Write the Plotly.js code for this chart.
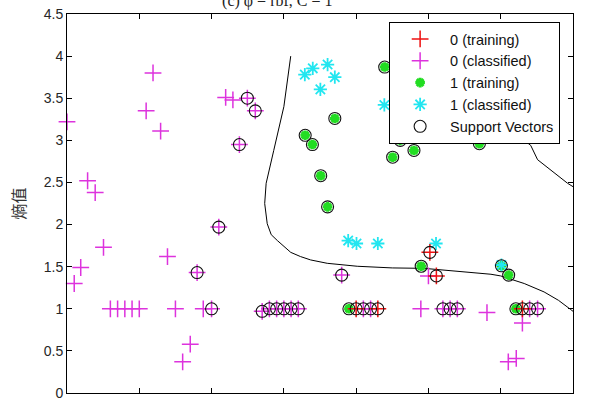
<!DOCTYPE html>
<html><head><meta charset="utf-8">
<script src="https://cdn.plot.ly/plotly-3.0.1.min.js"></script>
<style>html,body{margin:0;padding:0;background:#fff}</style>
</head><body>
<div id="chart" style="width:590px;height:401px"></div>
<script>
// ---- data ----
const train0X = [80, 86, 100.4, 102.2, 126];
const train0Y = [1, 1, 1.67, 1.39, 1];

const class0X = [0, 21.9, 23.8, 25.9, 43.9, 45.9, 49.9, 52.1, 47.7, 5.7, 7.8, 10.1, 27.8, 42.0, 36.0, 3.8, 2.0,
  12, 14, 16, 18, 20, 30, 37.7, 40, 34.1, 32, 54, 56, 58, 60, 62, 64, 82, 84, 76, 97.9, 100, 104, 106, 108,
  116.2, 126, 122.1, 124.3, 128, 130.2];
const class0Y = [3.22, 3.35, 3.80, 3.11, 3.51, 3.48, 3.50, 3.35, 2.95, 2.52, 2.38, 1.73, 1.62, 1.97, 1.43, 1.49, 1.30,
  1, 1, 1, 1, 1, 1, 1, 1, 0.58, 0.37, 0.97, 1, 1, 1, 1, 1, 1, 1, 1.40, 1, 1.39, 1, 1, 1,
  0.955, 0.83, 0.37, 0.41, 1, 1];

const train1X = [65.9, 67.9, 70.2, 72.1, 74.1, 87.9, 92.2, 94.2, 90.1, 96, 114.1, 98, 122.2, 78, 124.2, 120.2];
const train1Y = [3.06, 2.95, 2.58, 2.21, 3.26, 3.87, 3.0, 3.07, 2.80, 2.88, 2.96, 1.505, 1.40, 1, 1, 1.51];

const class1X = [65.8, 68, 72.1, 74.1, 70.1, 87.8, 96.1, 77.8, 80.1, 86, 102.1, 120.2];
const class1Y = [3.78, 3.855, 3.90, 3.75, 3.605, 3.42, 3.07, 1.81, 1.775, 1.775, 1.775, 1.52];

const svX = [49.9, 52.1, 47.7, 42, 36, 40, 54, 56, 58, 60, 62, 64, 82, 84, 76, 104, 106, 108, 128, 130.2,
  80, 86, 100.4, 102.2, 126,
  65.9, 67.9, 70.2, 72.1, 74.1, 87.9, 92.2, 94.2, 90.1, 96, 114.1, 98, 122.2, 78, 124.2, 120.2];
const svY = [3.50, 3.35, 2.95, 1.97, 1.43, 1, 0.97, 1, 1, 1, 1, 1, 1, 1, 1.40, 1, 1, 1, 1, 1,
  1, 1, 1.67, 1.39, 1,
  3.06, 2.95, 2.58, 2.21, 3.26, 3.87, 3.0, 3.07, 2.80, 2.88, 2.96, 1.505, 1.40, 1, 1, 1.51];

const bound1X = [61.9, 60, 57.2, 55.1, 54.7, 55.4, 56.5, 58.2, 61.9, 64.6, 67.4, 72, 80.3, 90, 98.8, 106.2, 112, 117.3, 120, 126.5, 132, 136, 139.4, 140];
const bound1Y = [4.0, 3.40, 2.88, 2.49, 2.25, 2.01, 1.88, 1.81, 1.67, 1.62, 1.58, 1.54, 1.505, 1.485, 1.48, 1.45, 1.43, 1.41, 1.39, 1.30, 1.20, 1.10, 0.99, 0.97];
const bound2X = [122.5, 124.6, 126.5, 128.3, 130.2, 134.8, 138.5, 140];
const bound2Y = [3.30, 3.11, 3.0, 2.94, 2.77, 2.61, 2.49, 2.45];

const xTicks = [0, 20, 40, 60, 80, 100, 120, 140];
const yTicks = [0, 0.5, 1, 1.5, 2, 2.5, 3, 3.5, 4, 4.5];
const legendNames = ['0 (training)', '0 (classified)', '1 (training)', '1 (classified)', 'Support Vectors'];

// ---- traces ----
const traces = [
  {x: bound1X, y: bound1Y, mode: 'lines', line: {color: '#000', width: 1}, showlegend: false, hoverinfo: 'skip'},
  {x: bound2X, y: bound2Y, mode: 'lines', line: {color: '#000', width: 1}, showlegend: false, hoverinfo: 'skip'},
  {x: train1X, y: train1Y, mode: 'markers', name: legendNames[2], legendrank: 3, cliponaxis: false,
   marker: {symbol: 'asterisk-open', size: 8, color: '#22dd22', line: {color: '#22dd22', width: 3}}},
  {x: class1X, y: class1Y, mode: 'markers', name: legendNames[3], legendrank: 4, cliponaxis: false,
   marker: {symbol: 'asterisk-open', size: 11, color: '#22e6f0', line: {color: '#22e6f0', width: 1.8}}},
  {x: class0X, y: class0Y, mode: 'markers', name: legendNames[1], legendrank: 2, cliponaxis: false,
   marker: {symbol: 'cross-thin-open', size: 12, color: '#dd33dd', line: {color: '#dd33dd', width: 1.5}}},
  {x: train0X, y: train0Y, mode: 'markers', name: legendNames[0], legendrank: 1, cliponaxis: false,
   marker: {symbol: 'cross-thin-open', size: 12, color: '#ee1111', line: {color: '#ee1111', width: 1.5}}},
  {x: svX, y: svY, mode: 'markers', name: legendNames[4], legendrank: 5, cliponaxis: false,
   marker: {symbol: 'circle-open', size: 12, color: '#111', line: {color: '#111', width: 1.1}}}
];

const tickFont = {family: 'Liberation Sans, Arial, sans-serif', size: 14, color: '#262626'};
const layout = {
  width: 590, height: 401,
  margin: {l: 66.7, r: 17, t: 14, b: 8.3},
  paper_bgcolor: '#fff', plot_bgcolor: '#fff',
  title: {text: '(c) φ = rbf, C = 1', font: {family: 'Liberation Serif, serif', size: 16, color: '#222'},
          x: 0.47, xanchor: 'center', yref: 'container', y: 1.0, yanchor: 'middle'},
  xaxis: {range: [0, 140], tickvals: xTicks, ticktext: xTicks.map(String), ticks: 'inside', ticklen: 5,
          tickcolor: '#000', showline: true, linecolor: '#000', linewidth: 1, mirror: 'ticks',
          showgrid: false, zeroline: false, tickfont: tickFont, automargin: false},
  yaxis: {range: [0, 4.5], tickvals: yTicks, ticktext: yTicks.map(String), ticks: 'inside', ticklen: 5,
          tickcolor: '#000', showline: true, linecolor: '#000', linewidth: 1, mirror: 'ticks',
          showgrid: false, zeroline: false, tickfont: tickFont, automargin: false,
          title: {text: '熵值', font: {family: 'Noto Sans CJK SC, sans-serif', size: 16, color: '#333'}}},
  legend: {x: 0.6366, y: 0.979, xanchor: 'left', yanchor: 'top', bgcolor: '#fff', bordercolor: '#000',
           borderwidth: 1, font: {family: 'Liberation Sans, Arial, sans-serif', size: 14.5, color: '#111'},
           tracegroupgap: 0, itemwidth: 50},
  showlegend: true
};

Plotly.newPlot('chart', traces, layout, {displayModeBar: false, staticPlot: true});
</script>
</body></html>
